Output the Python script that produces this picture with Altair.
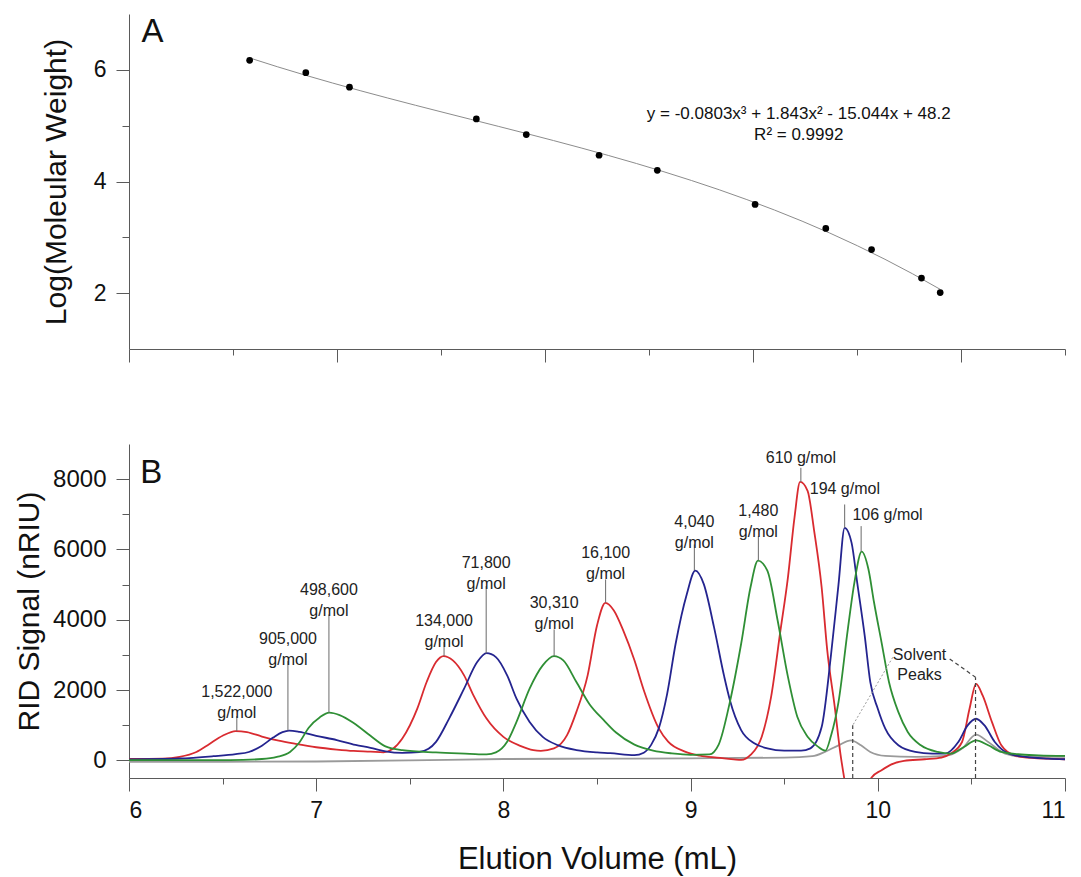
import altair as alt
import pandas as pd

FONT = "Liberation Sans"

# ---------------- Panel A: calibration ----------------
cal_volume = [6.58, 6.85, 7.06, 7.67, 7.91, 8.26, 8.54, 9.01, 9.35, 9.57, 9.81, 9.90]
cal_logmw = [6.17, 5.95, 5.69, 5.12, 4.84, 4.47, 4.20, 3.59, 3.16, 2.78, 2.27, 2.01]
equation_text = ["y = -0.0803x\u00b3 + 1.843x\u00b2 - 15.044x + 48.2", "R\u00b2 = 0.9992"]
equation_x = [9.22, 9.22]
equation_y = [5.21, 4.83]

# ---------------- Panel B: chromatograms ----------------
red_x = [6.00, 6.18, 6.27, 6.36, 6.43, 6.50, 6.57, 6.63, 6.71, 6.80, 6.89, 7.00, 7.11, 7.20, 7.29, 7.36, 7.41, 7.46,
         7.54, 7.59, 7.64, 7.68, 7.73, 7.79, 7.84, 7.91, 8.00, 8.09, 8.16, 8.20, 8.27, 8.34, 8.39, 8.45, 8.50, 8.545,
         8.59, 8.64, 8.70, 8.75, 8.83, 8.88, 8.97, 9.05, 9.14, 9.23, 9.27, 9.32, 9.38, 9.43, 9.48, 9.52, 9.555, 9.585,
         9.625, 9.66, 9.70, 9.73, 9.77, 9.80, 9.83, 9.87, 9.91, 9.94, 9.965, 10.02, 10.07, 10.14, 10.25, 10.34, 10.39,
         10.45, 10.49, 10.525, 10.56, 10.61, 10.66, 10.73, 10.82, 11.00]
red_y = [40, 50, 100, 240, 470, 700, 835, 805, 680, 560, 470, 375, 310, 270, 250, 230, 330, 624,
         1474, 2230, 2797, 2967, 2844, 2419, 1852, 1191, 671, 416, 293, 274, 340, 718, 1380, 2419, 3837, 4480,
         4264, 3697, 2847, 1997, 911, 533, 250, 136, 79, 32, 13, 155, 674, 1808, 3697, 5209, 6909, 7920,
         7665, 6531, 4925, 3130, 1525, 202, -800, -2000, -2000, -1000, -500, -279, -118, -14, 33, 80, 194,
         524, 1469, 2177, 1847, 1091, 430, 146, 71, 33]

blue_x = [6.00, 6.27, 6.45, 6.57, 6.64, 6.71, 6.77, 6.82, 6.855, 6.91, 7.00, 7.11, 7.21, 7.29, 7.37, 7.46, 7.55,
          7.60, 7.64, 7.71, 7.79, 7.86, 7.91, 7.96, 8.02, 8.07, 8.14, 8.21, 8.29, 8.39, 8.50, 8.57, 8.70, 8.75,
          8.79, 8.83, 8.875, 8.92, 8.98, 9.025, 9.07, 9.125, 9.18, 9.21, 9.27, 9.34, 9.41, 9.50, 9.59, 9.64,
          9.70, 9.75, 9.79, 9.823, 9.86, 9.89, 9.93, 9.96, 10.00, 10.04, 10.11, 10.20, 10.29, 10.36, 10.43,
          10.48, 10.525, 10.57, 10.625, 10.70, 10.79, 10.91, 11.00]
blue_y = [30, 55, 120, 180, 240, 420, 650, 805, 850, 815, 700, 580, 440, 360, 260, 217, 240,
          330, 529, 1191, 2041, 2797, 3052, 2939, 2419, 1758, 1096, 671, 435, 293, 227, 208, 150, 220,
          450, 911, 1900, 3318, 4737, 5400, 5020, 3791, 2375, 1714, 864, 486, 344, 278, 278, 344,
          950, 3000, 5000, 6617, 6188, 5058, 3547, 2224, 1469, 902, 430, 241, 194, 194, 524,
          997, 1185, 997, 524, 194, 99, 52, 33]

green_x = [6.00, 6.54, 6.71, 6.79, 6.86, 6.91, 6.96, 7.02, 7.07, 7.125, 7.20, 7.29, 7.37, 7.46, 7.64, 7.82, 7.91,
           7.96, 8.02, 8.07, 8.14, 8.21, 8.27, 8.32, 8.39, 8.46, 8.535, 8.60, 8.70, 8.80, 8.90, 9.00, 9.10, 9.15,
           9.21, 9.27, 9.32, 9.36, 9.41, 9.465, 9.52, 9.57, 9.625, 9.68, 9.72, 9.75, 9.79, 9.84, 9.875, 9.914,
           9.95, 9.98, 10.02, 10.06, 10.11, 10.16, 10.23, 10.32, 10.39, 10.46, 10.525, 10.59, 10.66, 10.75,
           10.86, 11.00]
green_y = [10, 10, 40, 100, 240, 510, 930, 1230, 1360, 1290, 1065, 700, 400, 293, 227, 189, 170,
           227, 529, 1096, 2041, 2703, 2967, 2844, 2230, 1600, 1150, 800, 450, 280, 200, 160, 170, 450,
           1666, 3319, 4925, 5680, 5397, 3980, 2375, 1241, 675, 392, 278, 700, 1658, 3736, 5058, 5937,
           5436, 4491, 3358, 2224, 1374, 808, 430, 241, 194, 383, 572, 430, 241, 175,
           146, 128]

gray_x = [6.00, 6.50, 7.00, 7.50, 8.00, 8.50, 9.00, 9.50, 9.65, 9.72, 9.79, 9.857, 9.91, 9.96, 10.04, 10.20,
          10.36, 10.45, 10.525, 10.59, 10.68, 10.79, 11.00]
gray_y = [-40, -40, -30, 0, 40, 50, 60, 80, 120, 250, 430, 572, 430, 241, 128, 99,
          128, 335, 732, 524, 194, 99, 99]

# peak labels
lab_text = ["1,522,000\ng/mol", "905,000\ng/mol", "498,600\ng/mol", "134,000\ng/mol", "71,800\ng/mol",
            "30,310\ng/mol", "16,100\ng/mol", "4,040\ng/mol", "1,480\ng/mol", "610 g/mol", "194 g/mol",
            "106 g/mol"]
lab_x = [6.576, 6.849, 7.068, 7.683, 7.908, 8.271, 8.546, 9.020, 9.362, 9.589, 9.824, 10.052]
lab_y = [1934, 3451, 4854, 3962, 5612, 4474, 5896, 6769, 7091, 8608, 7707, 6968]
leader_x = [6.576, 6.849, 7.068, 7.683, 7.908, 8.271, 8.546, 9.020, 9.362, 9.589, 9.823, 9.911]
leader_lo = [835, 850, 1356, 2967, 3043, 2967, 4484, 5404, 5688, 7920, 6617, 5937]
leader_hi = [1261, 2825, 4152, 3375, 4958, 3726, 5148, 6143, 6380, 8323, 7280, 6664]

# solvent peaks annotation
solvent_text = ["Solvent\nPeaks"]
solvent_tx = [10.223]
solvent_ty = [3004]
solvent_x = [9.866, 10.522]
solvent_top = [997, 2366]
dotted_x1, dotted_y1, dotted_x2, dotted_y2 = [10.08], [2933], [9.866], [997]
dashed_x1, dashed_y1, dashed_x2, dashed_y2 = [10.384], [2886], [10.522], [2366]

# ---------------- build tables ----------------
traces = [("gray", gray_x, gray_y), ("red", red_x, red_y), ("blue", blue_x, blue_y), ("green", green_x, green_y)]
frames = []
for k, (name, xs, ys) in enumerate(traces):
    frames.append(pd.DataFrame({"v": xs, "s": ys, "trace": name, "i": list(range(len(xs))), "z": k}))
chrom = pd.concat(frames, ignore_index=True)

labels_df = pd.DataFrame({"x": lab_x, "y": lab_y, "t": lab_text})
leaders_df = pd.DataFrame({"x": leader_x, "lo": leader_lo, "hi": leader_hi})
solv_txt_df = pd.DataFrame({"x": solvent_tx, "y": solvent_ty, "t": solvent_text})
solv_df = pd.DataFrame({"x": solvent_x, "top": solvent_top, "bot": [-500] * len(solvent_x)})
dotted_df = pd.DataFrame({"x": dotted_x1, "y": dotted_y1, "x2": dotted_x2, "y2": dotted_y2})
dashed_df = pd.DataFrame({"x": dashed_x1, "y": dashed_y1, "x2": dashed_x2, "y2": dashed_y2})
cal_df = pd.DataFrame({"ev": cal_volume, "lmw": cal_logmw})
eq_df = pd.DataFrame({"x": equation_x, "y": equation_y, "t": equation_text})
panelA_df = pd.DataFrame({"x": [6.06], "y": [6.49], "t": ["A"]})
panelB_df = pd.DataFrame({"x": [6.06], "y": [7890], "t": ["B"]})

AX = "#5a5a5a"
W = 936

# ---------------- Panel A ----------------
xsA = alt.Scale(domain=[6, 10.5], nice=False, zero=False)
ysA = alt.Scale(domain=[1, 7], nice=False, zero=False)

xA_major = alt.Axis(values=[6, 7, 8, 9, 10], tickSize=13, labels=False, title="", grid=False,
                    domainColor=AX, tickColor=AX, orient="bottom")
xA_minor = alt.Axis(values=[6.5, 7.5, 8.5, 9.5, 10.5], tickSize=6, labels=False, domain=False, title="",
                    grid=False, tickColor=AX, orient="bottom")
yA_major = alt.Axis(values=[2, 4, 6], tickSize=13, labelFontSize=23, labelFont=FONT, labelColor="#111",
                    labelPadding=10, title="Log(Moleular Weight)", titleFont=FONT, titleFontSize=30,
                    titleFontWeight="normal", titleColor="#111", titlePadding=22, grid=False,
                    domainColor=AX, tickColor=AX, orient="left")
yA_minor = alt.Axis(values=[3, 5], tickSize=7, labels=False, domain=False, title="", grid=False,
                    tickColor=AX, orient="left")

pts = alt.Chart(cal_df).mark_circle(size=45, color="black", opacity=1).encode(
    x=alt.X("ev:Q", scale=xsA, axis=xA_major),
    y=alt.Y("lmw:Q", scale=ysA, axis=yA_major),
)
fit = alt.Chart(cal_df).transform_regression("ev", "lmw", method="poly", order=3).mark_line(
    color="#8c8c8c", strokeWidth=1
).encode(
    x=alt.X("ev:Q", scale=xsA, axis=xA_minor),
    y=alt.Y("lmw:Q", scale=ysA, axis=yA_minor),
)
eq = alt.Chart(eq_df).mark_text(font=FONT, fontSize=17, color="#111", align="center", baseline="middle").encode(
    x=alt.X("x:Q", scale=xsA, axis=None), y=alt.Y("y:Q", scale=ysA, axis=None), text="t:N")
tagA = alt.Chart(panelA_df).mark_text(font=FONT, fontSize=33, color="#111", align="left",
                                      baseline="alphabetic").encode(
    x=alt.X("x:Q", scale=xsA, axis=None), y=alt.Y("y:Q", scale=ysA, axis=None), text="t:N")

panelA = alt.layer(fit, pts, eq, tagA).resolve_axis(x="independent", y="independent").properties(
    width=W, height=335)

# ---------------- Panel B ----------------
xsB = alt.Scale(domain=[6, 11], nice=False, zero=False)
ysB = alt.Scale(domain=[-500, 9000], nice=False, zero=False)

xB_major = alt.Axis(values=[6, 7, 8, 9, 10, 11], tickSize=13, labelFontSize=23, labelFont=FONT,
                    labelColor="#111", labelPadding=8, title="Elution Volume (mL)", titleFont=FONT,
                    titleFontSize=31, titleFontWeight="normal", titleColor="#111", titlePadding=22,
                    grid=False, domainColor=AX, tickColor=AX, orient="bottom")
xB_minor = alt.Axis(values=[6.5, 7.5, 8.5, 9.5, 10.5], tickSize=6, labels=False, domain=False, title="",
                    grid=False, tickColor=AX, orient="bottom")
yB_major = alt.Axis(values=[0, 2000, 4000, 6000, 8000], format="d", tickSize=13, labelFontSize=24,
                    labelFont=FONT, labelColor="#111", labelPadding=10, title="RID Signal (nRIU)",
                    titleFont=FONT, titleFontSize=30, titleFontWeight="normal", titleColor="#111",
                    titlePadding=8, grid=False, domainColor=AX, tickColor=AX, orient="left")
yB_minor = alt.Axis(values=[1000, 3000, 5000, 7000], tickSize=7, labels=False, domain=False, title="",
                    grid=False, tickColor=AX, orient="left")

lines = alt.Chart(chrom).mark_line(strokeWidth=1.8, interpolate="monotone", clip=True).encode(
    x=alt.X("v:Q", scale=xsB, axis=xB_major),
    y=alt.Y("s:Q", scale=ysB, axis=yB_major),
    color=alt.Color("trace:N", scale=alt.Scale(domain=["gray", "red", "blue", "green"],
                                               range=["#9a9a9a", "#d92b30", "#24248f", "#2f8f35"]),
                    legend=None),
    detail="trace:N",
    order="i:Q",
)
leaders = alt.Chart(leaders_df).mark_rule(color="#6a6a6a", strokeWidth=1).encode(
    x=alt.X("x:Q", scale=xsB, axis=xB_minor),
    y=alt.Y("lo:Q", scale=ysB, axis=yB_minor),
    y2="hi:Q",
)
labels = alt.Chart(labels_df).mark_text(font=FONT, fontSize=16, color="#222", align="center",
                                        baseline="middle", lineBreak="\n", lineHeight=21).encode(
    x=alt.X("x:Q", scale=xsB, axis=None), y=alt.Y("y:Q", scale=ysB, axis=None), text="t:N")
solv_lines = alt.Chart(solv_df).mark_rule(color="#444", strokeWidth=1.2, strokeDash=[4, 3]).encode(
    x=alt.X("x:Q", scale=xsB, axis=None), y=alt.Y("bot:Q", scale=ysB, axis=None), y2="top:Q")
dotted = alt.Chart(dotted_df).mark_rule(color="#9a9a9a", strokeWidth=1, strokeDash=[2, 2]).encode(
    x=alt.X("x:Q", scale=xsB, axis=None), y=alt.Y("y:Q", scale=ysB, axis=None), x2="x2:Q", y2="y2:Q")
dashed = alt.Chart(dashed_df).mark_rule(color="#444", strokeWidth=1.2, strokeDash=[4, 3]).encode(
    x=alt.X("x:Q", scale=xsB, axis=None), y=alt.Y("y:Q", scale=ysB, axis=None), x2="x2:Q", y2="y2:Q")
solv_txt = alt.Chart(solv_txt_df).mark_text(font=FONT, fontSize=16, color="#222", align="center",
                                            baseline="middle", lineBreak="\n", lineHeight=20).encode(
    x=alt.X("x:Q", scale=xsB, axis=None), y=alt.Y("y:Q", scale=ysB, axis=None), text="t:N")
tagB = alt.Chart(panelB_df).mark_text(font=FONT, fontSize=33, color="#111", align="left",
                                      baseline="alphabetic").encode(
    x=alt.X("x:Q", scale=xsB, axis=None), y=alt.Y("y:Q", scale=ysB, axis=None), text="t:N")

panelB = alt.layer(lines, leaders, labels, solv_lines, dotted, dashed, solv_txt, tagB).resolve_axis(
    x="independent", y="independent").properties(width=W, height=334)

chart = alt.vconcat(panelA, panelB, spacing=80).properties(
    padding={"left": 6, "top": 5, "right": 5, "bottom": 5},
    background="white",
).configure_view(stroke="transparent")

chart.save("out.html", embed_options={"renderer": "svg", "actions": False})
